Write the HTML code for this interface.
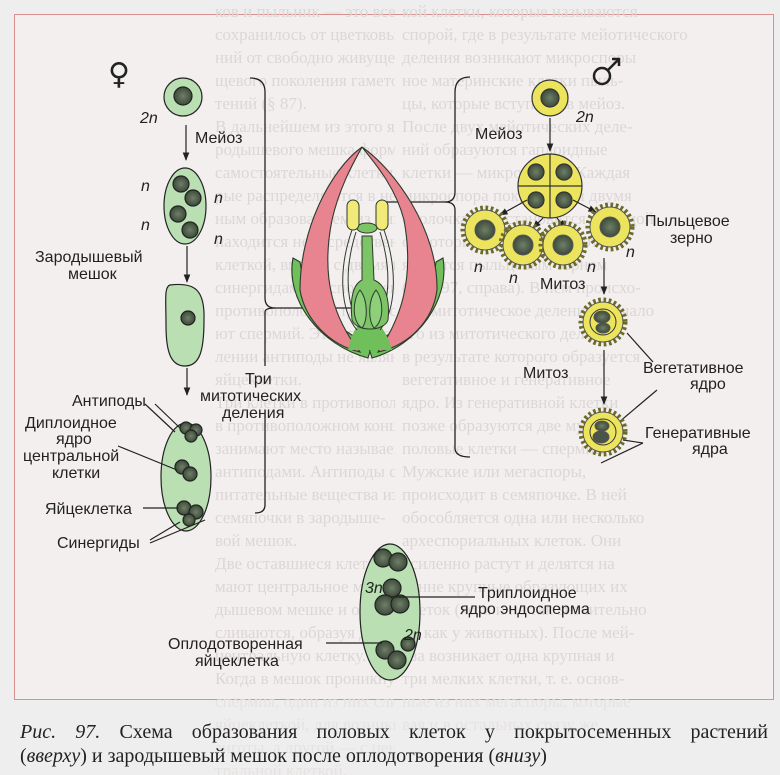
<!DOCTYPE html>
<html><head><meta charset="utf-8"><style>
html,body{margin:0;padding:0;}
body{width:780px;height:775px;background:#efeeee;position:relative;overflow:hidden;font-family:"Liberation Sans",sans-serif;}
.bg{position:absolute;font-family:"Liberation Serif",serif;font-size:17px;line-height:23px;color:#dcd7d7;white-space:nowrap;overflow:hidden;}
svg{position:absolute;left:0;top:0;}
.cap{position:absolute;left:20px;width:748px;font-family:"Liberation Serif",serif;font-size:20px;line-height:24px;color:#222;text-align:justify;text-align-last:justify;white-space:nowrap;}
</style></head><body>
<div style="position:absolute;left:14px;top:14px;width:760px;height:686px;background:#f4efef;border:1.5px solid #d79090;box-sizing:border-box;"></div>
<div class="bg" style="left:215px;top:0;width:180px;height:775px;">
ков и пыльник — это все, что<br>сохранилось от цветковых рас-<br>ний от свободно живущего заро-<br>щевого поколения гаметофита рас-<br>тений (§ 87).<br>В дальнейшем из этого ядра об-<br>родышевого мешка формируются<br>самостоятельные клетки, кото-<br>рые распределяются в нем попар-<br>ным образованием из них<br>находится непосредственно вбли-<br>клеткой, вместе с двумя клетками<br>синергидами расположенными<br>противоположно где-то семядоле<br>ют спермий. Этот процесс<br>лении антиподы не являются<br>яйцеклетки.<br>Три клетки в противоположном<br>в противоположном конце<br>занимают место называемые<br>антиподами. Антиподы снабжают<br>питательные вещества из<br>семяпочки в зародыше-<br>вой мешок.<br>Две оставшиеся клетки зани-<br>мают центральное место в заро-<br>дышевом мешке и очень часто<br>сливаются, образуя диплоидную<br>центральную клетку.<br>Когда в мешок проникнут два<br>спермия, один из них сливается с<br>яйцеклеткой, для возникновения<br>зиготы, а другой — с цен-<br>тральной клеткой.</div>
<div class="bg" style="left:402px;top:0;width:368px;height:775px;">
кой клетки, которые называются<br>спорой, где в результате мейотического<br>деления возникают микроспоры<br>ное материнские клетки пыль-<br>цы, которые вступают в мейоз.<br>После двух мейотических деле-<br>ний образуются гаплоидные<br>клетки — микроспоры. Каждая<br>микроспора покрывается двумя<br>оболочками и становится пыльцой<br>от которых далее образуются<br>является пыльцевым зерном<br>(рис. 97, справа). В нем происхо-<br>дит митотическое деление. Начало<br>его из митотического деления<br>в результате которого образуется<br>вегетативное и генеративное<br>ядро. Из генеративной клетки<br>позже образуются две мужские<br>половые клетки — спермии.<br>Мужские или мегаспоры,<br>происходит в семяпочке. В ней<br>обособляется одна или несколько<br>археспориальных клеток. Они<br>усиленно растут и делятся на<br>ранне крупные образующих их<br>клеток (хотя и не так значительно<br>их как у животных). После мей-<br>оза возникает одна крупная и<br>три мелких клетки, т. е. основ-<br>ные из них мегаспоры, которые<br>вая и в остальных сразу же.</div>
<svg width="780" height="775" viewBox="0 0 780 775">
<defs>
<marker id="ar" viewBox="0 0 10 10" refX="9" refY="5" markerWidth="7" markerHeight="7" orient="auto"><path d="M0,1 L10,5 L0,9 z" fill="#222"/></marker>
<radialGradient id="nuc"><stop offset="0" stop-color="#6f7f68"/><stop offset="1" stop-color="#3d4a3a"/></radialGradient>
</defs>
<rect x="0" y="700" width="780" height="75" fill="#efeeee" opacity="0.5"/>
<g stroke="#222" stroke-width="1.3" fill="none">
<path d="M250,78 Q265,78 265,92 L265,298 Q265,308 275,308 L353,308"/>
<path d="M265,312 Q265,308 275,308"/>
<path d="M265,312 L265,366"/>
<path d="M265,418 L265,505 Q265,513 255,513"/>
<path d="M470,77 Q455,77 455,92 L455,192 Q455,202 445,202 L383,202"/>
<path d="M455,210 Q455,202 445,202"/>
<path d="M455,210 L455,448 Q455,457 470,457"/>
</g>
<g stroke="#2d3a2d" stroke-width="1.1">
<path d="M293,258 C285,300 320,345 368,358 L372,345 C335,330 305,300 300,262 Z" fill="#6fbf5a"/>
<path d="M443,258 C450,300 418,345 372,358 L368,345 C405,330 432,300 436,262 Z" fill="#6fbf5a"/>
<path d="M362,147 C330,170 300,230 300,290 C305,320 330,345 360,352 C335,320 320,280 332,220 C340,185 355,160 362,147 Z" fill="#e8848f"/>
<path d="M362,147 C395,170 438,230 437,290 C433,320 410,345 378,352 C400,320 415,280 404,220 C395,185 372,160 362,147 Z" fill="#e8848f"/>
<path d="M348,350 C352,330 360,320 368,320 C378,320 386,330 392,350 Z" fill="#6fbf5a" stroke="none"/>
</g>
<g stroke="#2d3a2d" stroke-width="1" fill="none">
<path d="M352,230 C338,270 340,310 357,330"/><path d="M356,232 C344,270 346,305 360,326"/>
<path d="M384,230 C398,270 396,310 380,330"/><path d="M380,232 C392,270 390,305 376,326"/>
</g>
<g stroke="#2d3a2d" stroke-width="1">
<path d="M362,236 L362,280 C352,285 350,300 352,320 C356,332 384,332 388,320 C390,300 386,285 374,280 L372,236 Z" fill="#7cc466"/>
<ellipse cx="367" cy="228" rx="10" ry="5" fill="#7cc466"/>
<path d="M360,290 C352,300 352,322 362,328 C368,320 368,300 360,290 Z" fill="#8ed07a"/>
<path d="M376,290 C384,300 384,322 374,328 C368,320 368,300 376,290 Z" fill="#8ed07a"/>
<rect x="347" y="200" width="12" height="30" rx="6" fill="#f2ea78"/>
<rect x="376" y="200" width="12" height="30" rx="6" fill="#f2ea78"/>
</g>
<text x="108" y="84" font-size="30" fill="#222" font-family="DejaVu Sans">♀</text>
<g stroke="#222" stroke-width="1.2">
<circle cx="183" cy="97" r="19" fill="#b9dfb3"/>
<circle cx="183" cy="96" r="9" fill="url(#nuc)"/>
<ellipse cx="185" cy="206" rx="21" ry="38" fill="#b9dfb3"/>
<circle cx="181" cy="184" r="8" fill="url(#nuc)"/><circle cx="193" cy="198" r="8" fill="url(#nuc)"/>
<circle cx="178" cy="214" r="8" fill="url(#nuc)"/><circle cx="190" cy="230" r="8" fill="url(#nuc)"/>
<path d="M170,285 C195,282 205,290 204,320 C204,350 200,366 185,366 C170,366 166,350 166,325 C166,300 164,287 170,285 Z" fill="#b9dfb3"/>
<circle cx="188" cy="318" r="7" fill="url(#nuc)"/>
<ellipse cx="186" cy="477" rx="25" ry="54" fill="#b9dfb3"/>
<circle cx="186" cy="428" r="6" fill="url(#nuc)"/><circle cx="196" cy="430" r="6" fill="url(#nuc)"/><circle cx="191" cy="436" r="6" fill="url(#nuc)"/>
<circle cx="182" cy="467" r="7" fill="url(#nuc)"/><circle cx="190" cy="474" r="7" fill="url(#nuc)"/>
<circle cx="184" cy="508" r="7" fill="url(#nuc)"/><circle cx="196" cy="512" r="7" fill="url(#nuc)"/><circle cx="189" cy="520" r="6" fill="url(#nuc)"/>
<ellipse cx="390" cy="612" rx="30" ry="68" fill="#b9dfb3"/>
<circle cx="383" cy="558" r="9" fill="url(#nuc)"/><circle cx="398" cy="562" r="9" fill="url(#nuc)"/>
<circle cx="392" cy="588" r="9" fill="url(#nuc)"/><circle cx="385" cy="605" r="10" fill="url(#nuc)"/><circle cx="400" cy="604" r="9" fill="url(#nuc)"/>
<circle cx="385" cy="650" r="9" fill="url(#nuc)"/><circle cx="397" cy="660" r="9" fill="url(#nuc)"/><circle cx="408" cy="644" r="7" fill="url(#nuc)"/>
</g>
<g stroke="#222" stroke-width="1.2" fill="none">
<line x1="186" y1="125" x2="186" y2="160" marker-end="url(#ar)"/>
<line x1="187" y1="246" x2="187" y2="282" marker-end="url(#ar)"/>
<line x1="187" y1="368" x2="187" y2="395" marker-end="url(#ar)"/>
<line x1="155" y1="404" x2="180" y2="428"/><line x1="145" y1="404" x2="175" y2="432"/>
<line x1="118" y1="446" x2="177" y2="470"/>
<line x1="143" y1="508" x2="178" y2="508"/>
<line x1="150" y1="540" x2="180" y2="522"/><line x1="150" y1="543" x2="205" y2="520"/>
<line x1="395" y1="597" x2="475" y2="597"/>
<line x1="326" y1="643" x2="382" y2="643"/>
</g>
<g font-size="16" fill="#222">
<text x="140" y="123" font-style="italic">2n</text>
<text x="195" y="143">Мейоз</text>
<text x="141" y="191" font-style="italic">n</text><text x="214" y="203" font-style="italic">n</text>
<text x="141" y="230" font-style="italic">n</text><text x="214" y="244" font-style="italic">n</text>
<text x="35" y="262">Зародышевый</text><text x="68" y="279">мешок</text>
<text x="245" y="384">Три</text><text x="200" y="401">митотических</text><text x="222" y="418">деления</text>
<text x="72" y="406">Антиподы</text>
<text x="25" y="428">Диплоидное</text><text x="56" y="444">ядро</text><text x="23" y="461">центральной</text><text x="52" y="478">клетки</text>
<text x="45" y="514">Яйцеклетка</text>
<text x="57" y="548">Синергиды</text>
<text x="365" y="593" font-style="italic">3n</text><text x="404" y="640" font-style="italic">2n</text>
<text x="478" y="598">Триплоидное</text><text x="460" y="614">ядро эндосперма</text>
<text x="168" y="649">Оплодотворенная</text><text x="195" y="666">яйцеклетка</text>
</g>
<g stroke="#222" stroke-width="2.5" fill="none"><circle cx="602" cy="76" r="8"/><line x1="608" y1="70" x2="618" y2="60"/><path d="M612,59 L619,59 L619,66"/></g>
<g stroke="#333" stroke-width="1.2">
<circle cx="550" cy="98" r="18" fill="#ece45c"/><circle cx="550" cy="98" r="9" fill="url(#nuc)"/>
<circle cx="550" cy="186" r="32" fill="#ece45c"/>
<line x1="518" y1="186" x2="582" y2="186"/><line x1="550" y1="154" x2="550" y2="218"/>
<circle cx="536" cy="172" r="8" fill="url(#nuc)"/><circle cx="564" cy="172" r="8" fill="url(#nuc)"/>
<circle cx="536" cy="200" r="8" fill="url(#nuc)"/><circle cx="564" cy="200" r="8" fill="url(#nuc)"/>
</g>
<g stroke="#222" stroke-width="1.2" fill="none">
<line x1="550" y1="118" x2="550" y2="151" marker-end="url(#ar)"/>
<line x1="527" y1="200" x2="500" y2="215" marker-end="url(#ar)"/>
<line x1="543" y1="218" x2="533" y2="228" marker-end="url(#ar)"/>
<line x1="557" y1="218" x2="565" y2="228" marker-end="url(#ar)"/>
<line x1="573" y1="200" x2="596" y2="212" marker-end="url(#ar)"/>
<line x1="604" y1="258" x2="604" y2="294" marker-end="url(#ar)"/>
<line x1="604" y1="350" x2="604" y2="404" marker-end="url(#ar)"/>
<line x1="627" y1="333" x2="653" y2="362"/><line x1="657" y1="390" x2="612" y2="428"/>
<line x1="623" y1="440" x2="643" y2="443"/><line x1="643" y1="443" x2="601" y2="463"/>
</g>
<g stroke="#555" stroke-width="1">
<g transform="translate(485,230)"><circle r="22" fill="none" stroke="#6b6b2a" stroke-width="5" stroke-dasharray="2.6 2.6"/><circle r="20" fill="#ece45c"/><circle r="10" fill="url(#nuc)"/></g>
<g transform="translate(610,227)"><circle r="22" fill="none" stroke="#6b6b2a" stroke-width="5" stroke-dasharray="2.6 2.6"/><circle r="20" fill="#ece45c"/><circle r="10" fill="url(#nuc)"/></g>
<g transform="translate(523,245)"><circle r="22" fill="none" stroke="#6b6b2a" stroke-width="5" stroke-dasharray="2.6 2.6"/><circle r="20" fill="#ece45c"/><circle r="10" fill="url(#nuc)"/></g>
<g transform="translate(563,245)"><circle r="22" fill="none" stroke="#6b6b2a" stroke-width="5" stroke-dasharray="2.6 2.6"/><circle r="20" fill="#ece45c"/><circle r="10" fill="url(#nuc)"/></g>
<g transform="translate(603,322)"><circle r="22" fill="none" stroke="#6b6b2a" stroke-width="5" stroke-dasharray="2.6 2.6"/><circle r="20" fill="#ece45c"/><circle r="13" fill="#ece45c" stroke="#333"/><ellipse cx="-1" cy="-5" rx="8" ry="6" fill="url(#nuc)"/><ellipse cx="0" cy="6" rx="7" ry="5" fill="url(#nuc)"/></g>
<g transform="translate(603,432)"><circle r="22" fill="none" stroke="#6b6b2a" stroke-width="5" stroke-dasharray="2.6 2.6"/><circle r="20" fill="#ece45c"/><circle r="13" fill="#ece45c" stroke="#333"/><ellipse cx="-1" cy="-6" rx="7" ry="5" fill="url(#nuc)"/><ellipse cx="-2" cy="5" rx="8" ry="6" fill="#4a5547"/></g>
</g>
<g font-size="16" fill="#222">
<text x="576" y="122" font-style="italic">2n</text>
<text x="475" y="139">Мейоз</text>
<text x="474" y="272" font-style="italic">n</text><text x="509" y="283" font-style="italic">n</text>
<text x="587" y="272" font-style="italic">n</text><text x="626" y="257" font-style="italic">n</text>
<text x="540" y="289">Митоз</text>
<text x="645" y="226">Пыльцевое</text><text x="670" y="243">зерно</text>
<text x="523" y="378">Митоз</text>
<text x="643" y="373">Вегетативное</text><text x="690" y="389">ядро</text>
<text x="645" y="438">Генеративные</text><text x="692" y="454">ядра</text>
</g>
</svg>
<div class="cap" style="top:720px;"><i>Рис. 97.</i> Схема образования половых клеток у покрытосеменных растений</div>
<div class="cap" style="top:744px;text-align-last:left;">(<i>вверху</i>) и зародышевый мешок после оплодотворения (<i>внизу</i>)</div>
</body></html>
